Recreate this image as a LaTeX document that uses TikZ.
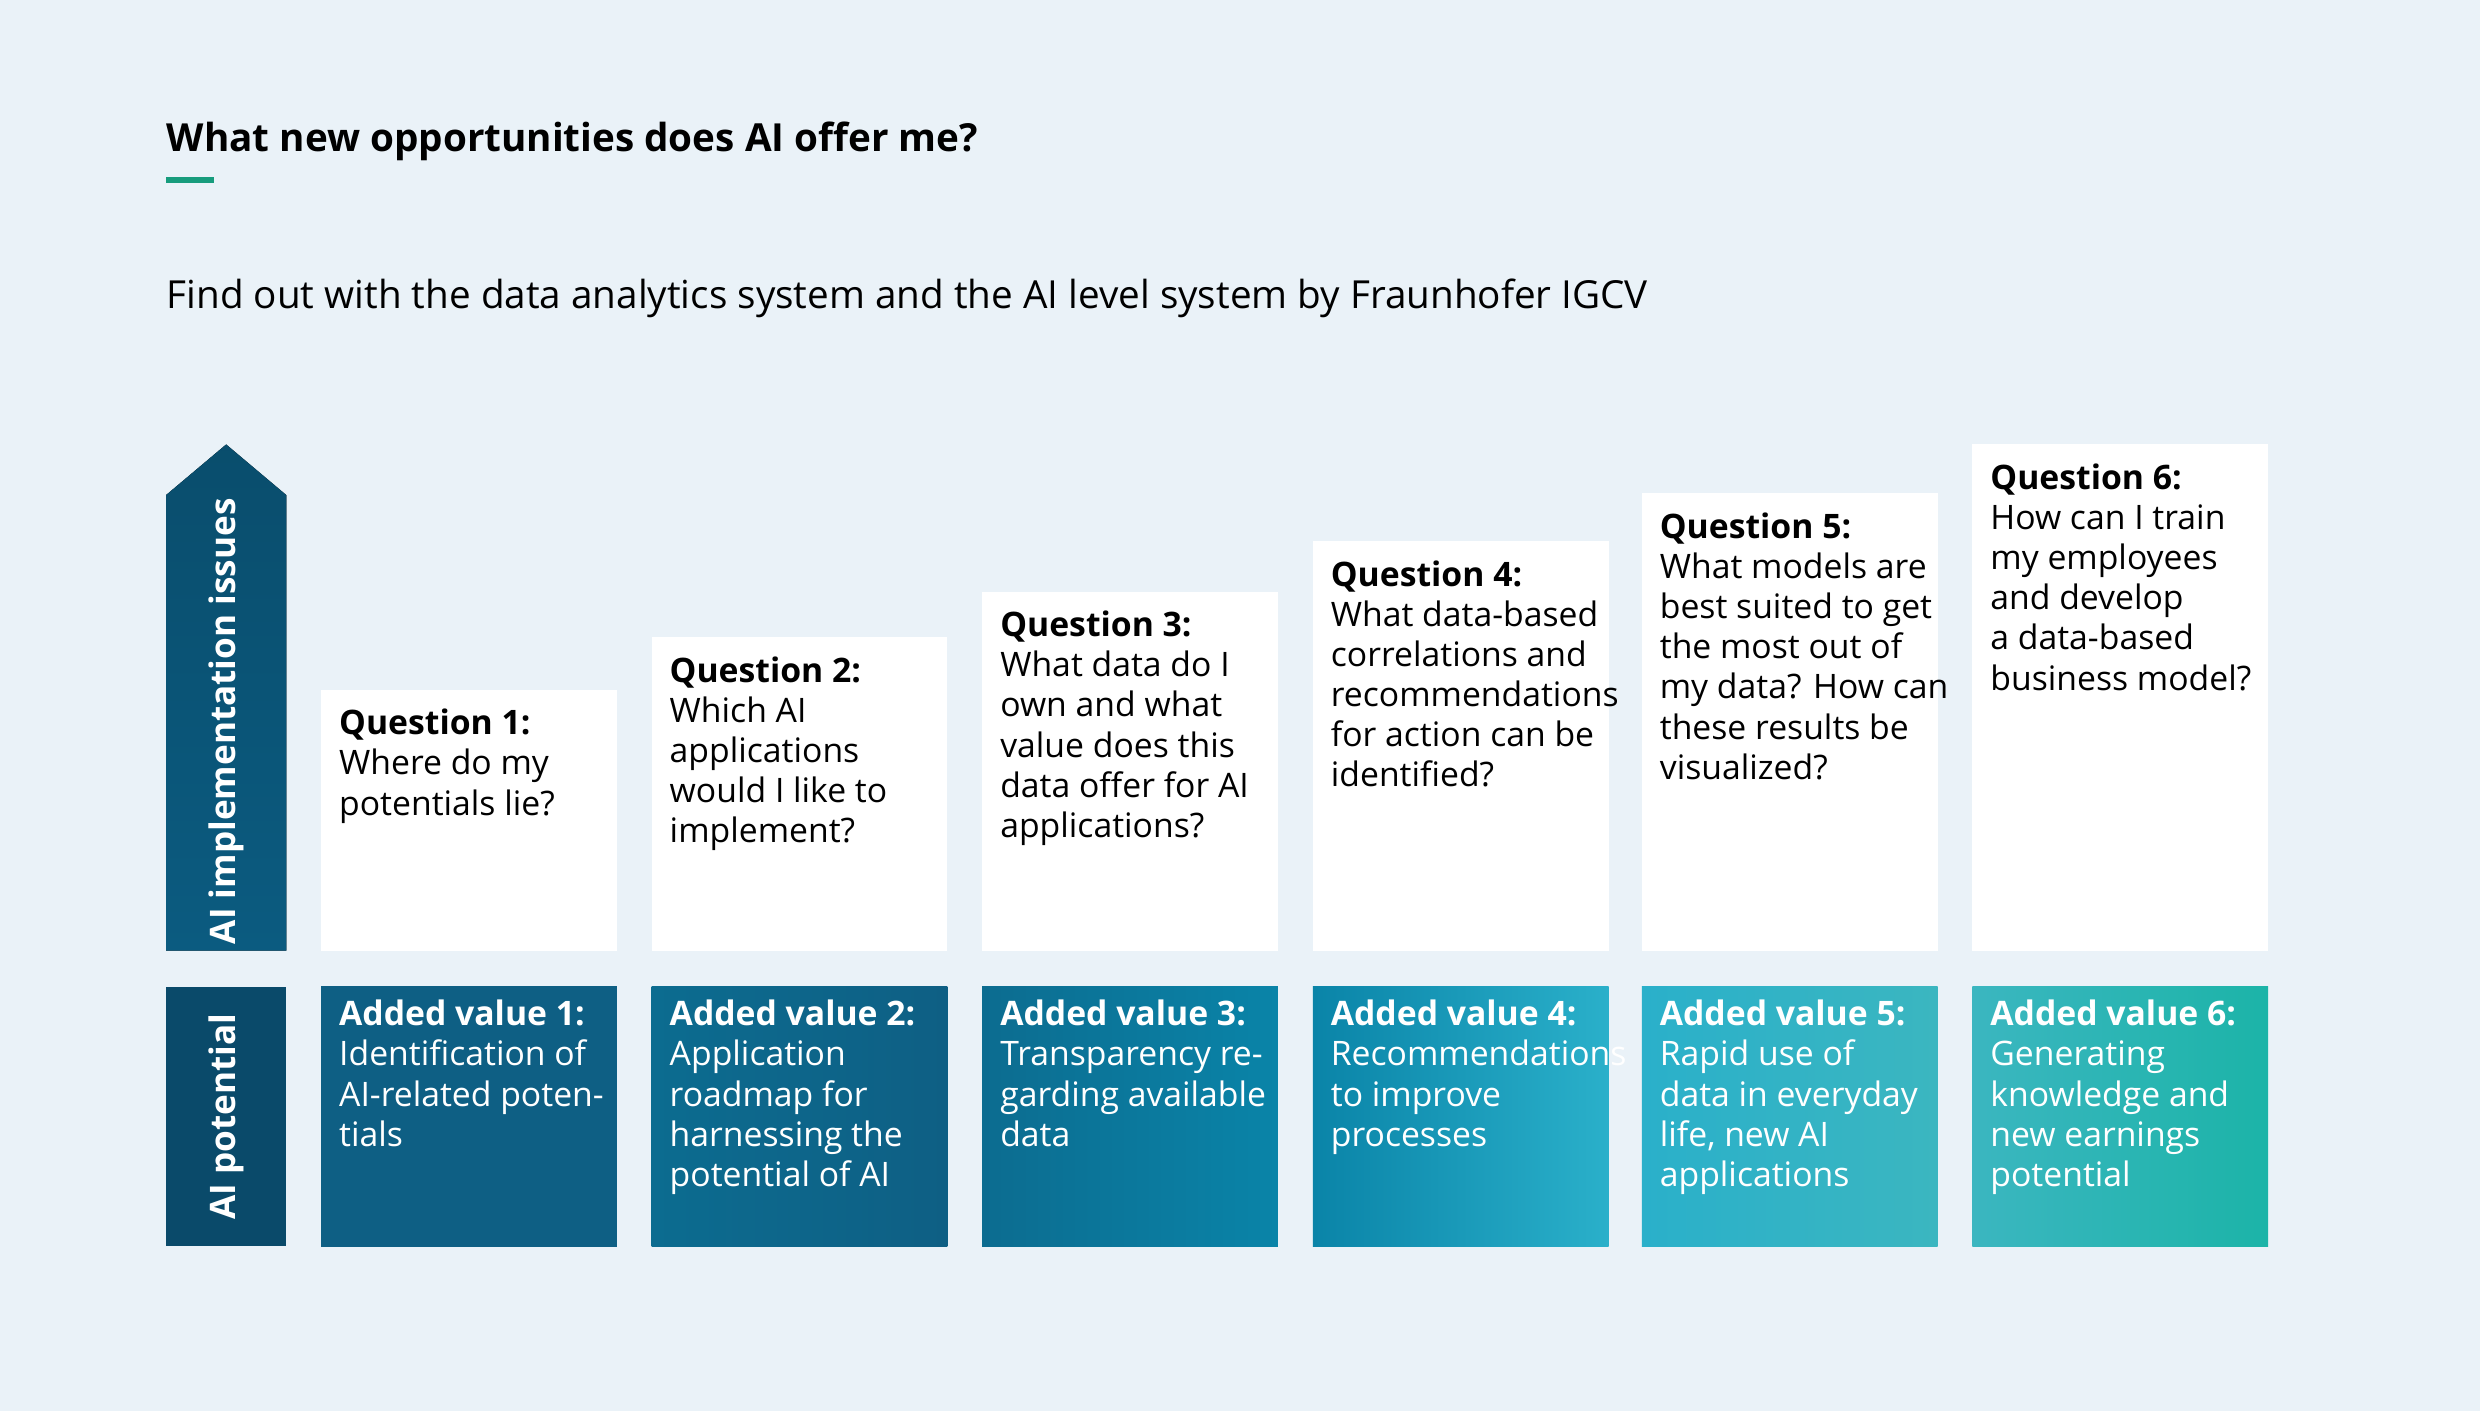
\documentclass[tikz,border=0pt]{standalone}
\usepackage{fontspec}
\setmainfont{Open Sans}
\usetikzlibrary{positioning}
\definecolor{bgblue}{HTML}{EAF2F8}
\definecolor{fhgreen}{HTML}{179C7D}
\definecolor{arrowblue}{HTML}{0B5B80}
\definecolor{potblue}{HTML}{0A4A6A}
\definecolor{avA}{HTML}{0E5F84}
\definecolor{avB}{HTML}{0C6C90}
\definecolor{avC}{HTML}{0A84A8}
\definecolor{avD}{HTML}{2AB0CA}
\definecolor{avE}{HTML}{3BB6C0}
\definecolor{avF}{HTML}{1CB4A8}
\tikzset{
  qtext/.style={anchor=north west,inner sep=0pt,align=left,text=black,
    font=\fontsize{9.6}{11.4}\selectfont},
  atext/.style={qtext,text=white},
  sidetext/.style={rotate=90,text=white,font=\fontsize{10}{12}\selectfont\bfseries},
}
\begin{document}
\begin{tikzpicture}[x=0.015816cm,y=-0.015816cm]
  \fill[bgblue] (0,0) rectangle (1568,892);
  \useasboundingbox (0,0) rectangle (1568,892);

  % heading
  \node[anchor=base west,inner sep=0pt,font=\fontsize{11}{13}\selectfont\bfseries] (title) at (105,96) {What new opportunities does AI offer me?};
  \fill[fhgreen] (105,112) rectangle (135,116);
  \node[anchor=base west,inner sep=0pt,font=\fontsize{11}{13}\selectfont] (subtitle) at (105,195) {Find out with the data analytics system and the AI level system by Fraunhofer IGCV};

  % left side bars
  \fill[top color=arrowblue!85!black,bottom color=arrowblue] (105,601) -- (105,313) -- (143,281) -- (181,313) -- (181,601) -- cycle;
  \node[sidetext] (issues) at (143,456) {AI implementation issues};
  \fill[potblue] (105,624) rectangle (181,788);
  \node[sidetext] (potential) at (143,706) {AI potential};

  % questions (white boxes)
  \foreach \x/\t/\q in {
    203/436/{\textbf{Question 1:}\\Where do my\\potentials lie?},
    412/403/{\textbf{Question 2:}\\Which AI\\applications\\would I like to\\implement?},
    621/374/{\textbf{Question 3:}\\What data do I\\own and what\\value does this\\data offer for AI\\applications?},
    830/342/{\textbf{Question 4:}\\What data-based\\correlations and\\recommendations\\for action can be\\identified?},
    1038/312/{\textbf{Question 5:}\\What models are\\best suited to get\\the most out of\\my data? How can\\these results be\\visualized?},
    1247/281/{\textbf{Question 6:}\\How can I train\\my employees\\and develop\\a data-based\\business model?}}
  {
    \fill[white] (\x,\t) rectangle (\x+187,601);
    \node[qtext] (q\x) at (\x+11,\t+12) {\q};
  }

  % added values
  \foreach \x/\ca/\cb/\a in {
    203/avA/avA/{\textbf{Added value 1:}\\Identification of\\AI-related poten-\\tials},
    412/avB/avA/{\textbf{Added value 2:}\\Application\\roadmap for\\harnessing the\\potential of AI},
    621/avB/avC/{\textbf{Added value 3:}\\Transparency re-\\garding available\\data},
    830/avC/avD/{\textbf{Added value 4:}\\Recommendations\\to improve\\processes},
    1038/avD/avE/{\textbf{Added value 5:}\\Rapid use of\\data in everyday\\life, new AI\\applications},
    1247/avE/avF/{\textbf{Added value 6:}\\Generating\\knowledge and\\new earnings\\potential}}
  {
    \fill[left color=\ca,right color=\cb] (\x,624) rectangle (\x+187,788);
    \node[atext] (a\x) at (\x+11,624+8) {\a};
  }
\end{tikzpicture}
\end{document}
